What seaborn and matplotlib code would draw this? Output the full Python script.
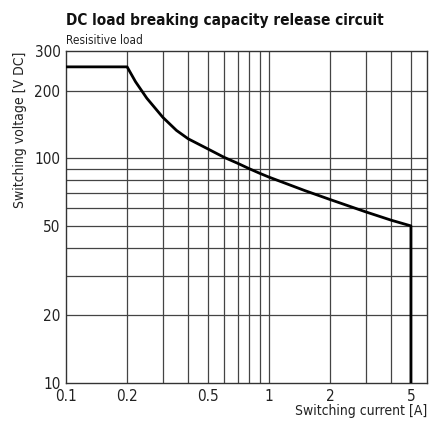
import matplotlib
matplotlib.use("Agg")
import matplotlib.pyplot as plt
import seaborn as sns
import pandas as pd

current = [0.1, 0.2, 0.22, 0.25, 0.3, 0.35, 0.4, 0.5, 0.6, 0.7, 0.8, 0.9, 1.0,
           1.5, 2.0, 3.0, 4.0, 5.0, 5.0]
voltage = [255, 255, 219, 185, 152, 133, 122, 110, 101, 95, 89.8, 85.7, 82.4,
           71.8, 65.5, 57.7, 53, 50, 10]
x_ticks = [0.1, 0.2, 0.5, 1, 2, 5]
x_tick_labels = ["0.1", "0.2", "0.5", "1", "2", "5"]
y_ticks = [10, 20, 50, 100, 200, 300]
y_tick_labels = ["10", "20", "50", "100", "200", "300"]
x_grid = [0.2, 0.3, 0.4, 0.5, 0.6, 0.7, 0.8, 0.9, 1, 2, 3, 4, 5]
y_grid = [20, 30, 40, 50, 60, 70, 80, 90, 100, 200]

sns.set_theme(style="white")
plt.rcParams['font.family'] = ['DejaVu Sans']
plt.rcParams['font.stretch'] = 'condensed'

df = pd.DataFrame({"current": current, "voltage": voltage})

fig = plt.figure(figsize=(4.3, 4.26), dpi=100)
ax = fig.add_axes([66/430, 1-383/426, (427-66)/430, (383-51)/426])
ax.set_xscale("log")
ax.set_yscale("log")
ax.set_xlim(0.1, 6.0)
ax.set_ylim(10, 300)
for xv in x_grid:
    ax.axvline(xv, color="#444444", lw=0.9, zorder=1)
for yv in y_grid:
    ax.axhline(yv, color="#444444", lw=0.9, zorder=1)
sns.lineplot(data=df, x="current", y="voltage", sort=False, estimator=None,
             color="black", lw=2.0, ax=ax, zorder=3)
ax.set_xticks(x_ticks)
ax.set_xticklabels(x_tick_labels)
ax.set_yticks(y_ticks)
ax.set_yticklabels(y_tick_labels)
ax.minorticks_off()
ax.tick_params(length=0, labelsize=11, colors="#222222", pad=4)
for s in ax.spines.values():
    s.set_color("#333333")
    s.set_linewidth(1.0)
ax.set_xlabel("")
ax.set_ylabel("")

fig.text(66/430, 1-20/426, "DC load breaking capacity release circuit", fontsize=11, fontweight="bold", ha="left", va="center", color="#111111")
fig.text(66/430, 1-40/426, "Resisitive load", fontsize=8.5, ha="left", va="center", color="#222222")
fig.text(427/430, 1-411/426, "Switching current [A]", fontsize=10, ha="right", va="center", color="#222222")
fig.text(20/430, 1-52/426, "Switching voltage [V DC]", fontsize=10, rotation=90, ha="center", va="top", color="#222222")

fig.savefig("out.png", dpi=100)
